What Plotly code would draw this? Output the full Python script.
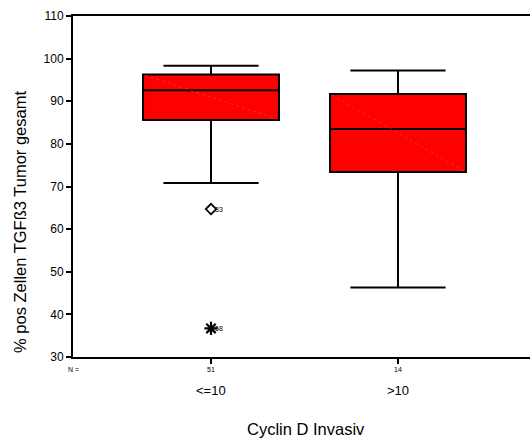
import plotly.graph_objects as go

categories = ["<=10", ">10"]
n_counts = ["51", "14"]
q1 = [85.6, 73.4]
median = [92.6, 83.5]
q3 = [96.3, 91.7]
lower_whisker = [70.8, 46.3]
upper_whisker = [98.3, 97.2]
outlier_cat = [0, 0]
outlier_val = [64.7, 36.7]
outlier_label = ["33", "58"]
outlier_symbol = ["diamond-open", "asterisk-open"]
y_ticks = [30, 40, 50, 60, 70, 80, 90, 100, 110]

FONT = "Arial, Liberation Sans, sans-serif"
BOX_W = 0.727
pos = list(range(len(categories)))

fig = go.Figure()
for i, c in enumerate(categories):
    fig.add_trace(go.Box(
        x=[pos[i]], q1=[q1[i]], median=[median[i]], q3=[q3[i]],
        lowerfence=[lower_whisker[i]], upperfence=[upper_whisker[i]],
        width=BOX_W, whiskerwidth=0.7, fillcolor="#ff0000",
        line=dict(color="black", width=2), boxpoints=False,
        showlegend=False, hoverinfo="skip"))
    # faint diagonal artefact inside the box
    fig.add_trace(go.Scatter(
        x=[pos[i] - BOX_W / 2 + 0.01, pos[i] + BOX_W / 2 - 0.01],
        y=[q3[i] - 0.2, q1[i] + 0.2], mode="lines",
        line=dict(color="#ff5050", width=0.5, dash="dot"),
        showlegend=False, hoverinfo="skip"))

for k in range(len(outlier_val)):
    fig.add_trace(go.Scatter(
        x=[outlier_cat[k]], y=[outlier_val[k]], mode="markers",
        marker=dict(symbol=outlier_symbol[k], color="black",
                    size=8 if k == 0 else 11, line=dict(color="black", width=1.8 if k == 0 else 2.2)),
        showlegend=False, hoverinfo="skip"))
    fig.add_annotation(x=outlier_cat[k], y=outlier_val[k], text=outlier_label[k],
                       showarrow=False, xanchor="left", xshift=2,
                       font=dict(family=FONT, size=7, color="black"))

for i, c in enumerate(categories):
    fig.add_annotation(x=pos[i], y=0, yref="paper", text=c, showarrow=False,
                       yanchor="middle", yshift=-33,
                       font=dict(family=FONT, size=13, color="black"))

fig.add_annotation(x=0, xref="paper", y=0, yref="paper", text="N =", showarrow=False,
                   xanchor="center", yanchor="middle", yshift=-12,
                   font=dict(family=FONT, size=7, color="black"))

# axis titles
fig.add_annotation(x=0.5, xref="paper", y=0, yref="paper", text="Cyclin D Invasiv",
                   showarrow=False, xanchor="center", yanchor="middle", yshift=-72,
                   xshift=4, font=dict(family=FONT, size=16.5, color="black"))
fig.add_annotation(x=0, xref="paper", y=0.396, yref="paper",
                   text="% pos Zellen TGFß3 Tumor gesamt", textangle=-90,
                   showarrow=False, xanchor="center", yanchor="middle", xshift=-53,
                   font=dict(family=FONT, size=16.5, color="black"))

fig.update_layout(
    width=530, height=439,
    margin=dict(l=73, r=0, t=16, b=82),
    paper_bgcolor="white", plot_bgcolor="white",
    font=dict(family=FONT, color="black"),
    xaxis=dict(range=[-0.738, 1.706], tickvals=pos, ticktext=n_counts,
               tickfont=dict(size=7), ticks="outside", ticklen=5, tickwidth=2,
               tickcolor="black", showline=True, linecolor="black", linewidth=2,
               mirror=True, showgrid=False, zeroline=False),
    yaxis=dict(range=[30, 110], tickvals=y_ticks, ticks="outside", ticklen=5,
               tickwidth=2, tickcolor="black", tickfont=dict(size=12),
               showline=True, linecolor="black", linewidth=2, mirror=False,
               showgrid=False, zeroline=False),
)

fig.write_html("out.html")
